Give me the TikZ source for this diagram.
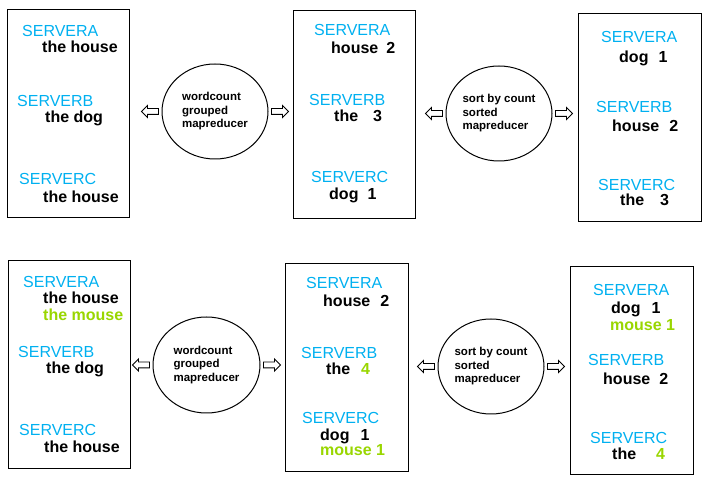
\documentclass[tikz,border=0pt]{standalone}
\usepackage{fontspec}
\setmainfont{Liberation Sans}
\usetikzlibrary{shapes.geometric,shapes.arrows,calc}
\definecolor{srvblue}{RGB}{0,176,240}
\definecolor{newgreen}{RGB}{153,214,0}
\newcommand\wsp[1]{\hspace*{#1pt}}
\begin{document}
\begin{tikzpicture}[x=1pt,y=-1pt,
  box/.style={draw, line width=1pt, anchor=north west, inner sep=0},
  srv/.style={anchor=base west, inner sep=0, text=srvblue, font=\fontsize{16}{18}\selectfont},
  val/.style={anchor=base west, inner sep=0, text=black, font=\fontsize{16}{18}\selectfont\bfseries},
  newval/.style={val, text=newgreen},
  proc/.style={ellipse, draw, line width=1pt, minimum width=106pt, minimum height=95pt, inner sep=0, align=left, font=\fontsize{11.5}{13.5}\selectfont\bfseries},
  blockarrow/.style={single arrow, draw, line width=0.9pt, fill=white, minimum height=17pt, minimum width=0pt, inner xsep=0pt, inner ysep=2.5pt, single arrow head extend=3pt, single arrow head indent=0pt},
  larr/.style={blockarrow, shape border rotate=180},
  rarr/.style={blockarrow},
]
\useasboundingbox (0,0) rectangle (716,489);

% ---------- top row ----------
\node[box, minimum width=122pt, minimum height=208pt] (b1) at (7,9) {};
\node[srv] (b1sa) at (22,37) {SERVERA};
\node[val] (b1va) at (42,53) {the house};
\node[srv] (b1sb) at (17,107) {SERVERB};
\node[val] (b1vb) at (45,123) {the dog};
\node[srv] (b1sc) at (19,185) {SERVERC};
\node[val] (b1vc) at (43,203) {the house};

\node[proc] (e1) at (215,111.5) {wordcount\\grouped\\mapreducer};
\node[larr] (e1l) at ($(e1.west)-(10,0)$) {};
\node[rarr] (e1r) at ($(e1.east)+(10,0)$) {};

\node[box, minimum width=122pt, minimum height=208pt] (b2) at (293,10) {};
\node[srv] (b2sa) at (314,36) {SERVERA};
\node[val] (b2va) at (331,54) {house\wsp{8}2};
\node[srv] (b2sb) at (309,106) {SERVERB};
\node[val] (b2vb) at (334,122) {the\wsp{15}3};
\node[srv] (b2sc) at (311,183) {SERVERC};
\node[val] (b2vc) at (329,200) {dog\wsp{9}1};

\node[proc] (e2) at (499,113.5) {sort by count\\sorted\\mapreducer};
\node[larr] (e2l) at ($(e2.west)-(10,0)$) {};
\node[rarr] (e2r) at ($(e2.east)+(10,0)$) {};

\node[box, minimum width=123pt, minimum height=208pt] (b3) at (578,13) {};
\node[srv] (b3sa) at (601,43) {SERVERA};
\node[val] (b3va) at (619,63) {dog\wsp{10}1};
\node[srv] (b3sb) at (596,113) {SERVERB};
\node[val] (b3vb) at (612,132) {house\wsp{10}2};
\node[srv] (b3sc) at (598,191) {SERVERC};
\node[val] (b3vc) at (620,206) {the\wsp{16}3};

% ---------- bottom row ----------
\node[box, minimum width=122pt, minimum height=208pt] (b4) at (8,260) {};
\node[srv] (b4sa) at (23,288) {SERVERA};
\node[val] (b4va) at (43,304) {the house};
\node[newval] (b4na) at (43,321) {the mouse};
\node[srv] (b4sb) at (18,358) {SERVERB};
\node[val] (b4vb) at (46,374) {the dog};
\node[srv] (b4sc) at (19,436) {SERVERC};
\node[val] (b4vc) at (44,453) {the house};

\node[proc, minimum width=107pt, minimum height=96pt] (e3) at (206.5,365) {wordcount\\grouped\\mapreducer};
\node[larr] (e3l) at ($(e3.west)-(10,0)$) {};
\node[rarr] (e3r) at ($(e3.east)+(10,0)$) {};

\node[box, minimum width=123pt, minimum height=208pt] (b5) at (285,263) {};
\node[srv] (b5sa) at (306,289) {SERVERA};
\node[val] (b5va) at (323,307) {house\wsp{10}2};
\node[srv] (b5sb) at (301,359) {SERVERB};
\node[val] (b5vb) at (326,375) {the\wsp{11}\textcolor{newgreen}{4}};
\node[srv] (b5sc) at (302,424) {SERVERC};
\node[val] (b5vc) at (320,441) {dog\wsp{11}1};
\node[newval] (b5nc) at (320,456) {mouse 1};

\node[proc] (e4) at (491,366.5) {sort by count\\sorted\\mapreducer};
\node[larr] (e4l) at ($(e4.west)-(10,0)$) {};
\node[rarr] (e4r) at ($(e4.east)+(10,0)$) {};

\node[box, minimum width=123pt, minimum height=208pt] (b6) at (570,266) {};
\node[srv] (b6sa) at (593,296) {SERVERA};
\node[val] (b6va) at (611,314) {dog\wsp{11}1};
\node[newval] (b6na) at (610,331) {mouse 1};
\node[srv] (b6sb) at (588,366) {SERVERB};
\node[val] (b6vb) at (603,385) {house\wsp{9}2};
\node[srv] (b6sc) at (590,444) {SERVERC};
\node[val] (b6vc) at (612,460) {the\wsp{20}\textcolor{newgreen}{4}};
\end{tikzpicture}
\end{document}
